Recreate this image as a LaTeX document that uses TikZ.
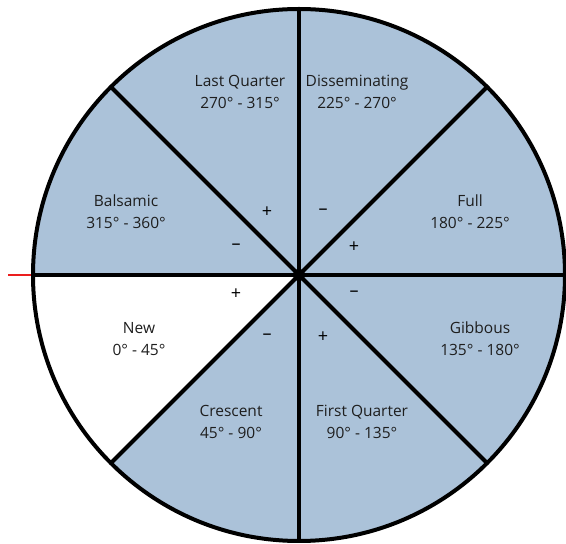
\documentclass[tikz,border=0pt]{standalone}
\usepackage{fontspec}
\setmainfont{Open Sans}
\usetikzlibrary{calc}
\definecolor{phaseblue}{RGB}{171,194,217}
\definecolor{txt}{RGB}{30,30,30}
\definecolor{markred}{RGB}{235,30,30}
\begin{document}
\begin{tikzpicture}[x=1pt,y=1pt,
  spoke/.style={line width=4pt, draw=black},
  rim/.style={line width=4pt, draw=black},
  phase/.style={font=\fontsize{15.5}{22}\selectfont, text=txt, align=center, inner sep=0pt},
  sign/.style={font=\fontsize{18}{20}\selectfont, text=black, inner sep=0pt}]
\useasboundingbox (0,0) rectangle (566,544);
\coordinate (C) at (299,269);
\fill[phaseblue] (C) circle[radius=266pt];
\fill[white] (C) -- ++(180:266pt) arc[start angle=180, end angle=225, radius=266pt] -- cycle;
\foreach \a/\n in {0/e,45/ne,90/n,135/nw,180/w,225/sw,270/s,315/se}{
  \coordinate (p\n) at ($(C)+(\a:266pt)$);
}
\foreach \n in {e,ne,n,nw,w,sw,s,se}{
  \draw[spoke] (C) -- (p\n);
}
\draw[rim] (C) circle[radius=266pt];
\fill[black] (C) circle[radius=6pt];
\coordinate (r0) at (8,269);
\coordinate (r1) at (31,269);
\draw[draw=markred, line width=1.2pt] (r0) -- (r1);
\node[phase] (lq) at (240,452) {Last Quarter\\270° - 315°};
\node[phase] (di) at (357,452) {Disseminating\\225° - 270°};
\node[phase] (ba) at (126,332) {Balsamic\\315° - 360°};
\node[phase] (fu) at (470,332) {Full\\180° - 225°};
\node[phase] (ne) at (139,205) {New\\0° - 45°};
\node[phase] (gi) at (480,205) {Gibbous\\135° - 180°};
\node[phase] (cr) at (231,122) {Crescent\\45° - 90°};
\node[phase] (fq) at (362,122) {First Quarter\\90° - 135°};
\node[sign] (s1) at (267,332) {+};
\node[sign] (s2) at (323,332) {–};
\node[sign] (s3) at (236,297) {–};
\node[sign] (s4) at (354,297) {+};
\node[sign] (s5) at (236,250) {+};
\node[sign] (s6) at (354,250) {–};
\node[sign] (s7) at (267,207) {–};
\node[sign] (s8) at (323,207) {+};
\end{tikzpicture}
\end{document}
